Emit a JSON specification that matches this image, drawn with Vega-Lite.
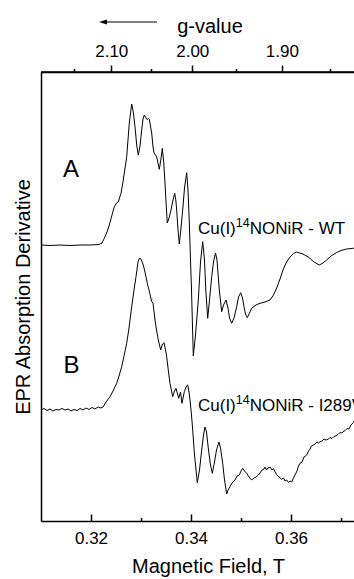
{
  "$schema": "https://vega.github.io/schema/vega-lite/v6.json",
  "width": 313,
  "height": 449,
  "autosize": {"type": "none"},
  "padding": {"left": 41, "top": 72, "right": 0, "bottom": 58},
  "config": {
    "font": "Liberation Sans",
    "view": {"stroke": null},
    "axis": {
      "domainColor": "black", "domainWidth": 1.5,
      "tickColor": "black", "tickWidth": 1.5,
      "labelColor": "black", "titleColor": "black",
      "labelFont": "Liberation Sans", "titleFont": "Liberation Sans",
      "titleFontWeight": "normal", "grid": false,
      "labelFontSize": 17, "titleFontSize": 20
    },
    "text": {"font": "Liberation Sans", "color": "black"}
  },
  "datasets": {
    "spectra": [
      {"sample": "A", "field_T": 0.3100, "signal": 276},
      {"sample": "A", "field_T": 0.3118, "signal": 275.5},
      {"sample": "A", "field_T": 0.3138, "signal": 276},
      {"sample": "A", "field_T": 0.3158, "signal": 275.5},
      {"sample": "A", "field_T": 0.3178, "signal": 276},
      {"sample": "A", "field_T": 0.3198, "signal": 276},
      {"sample": "A", "field_T": 0.3216, "signal": 276.5},
      {"sample": "A", "field_T": 0.3222, "signal": 278},
      {"sample": "A", "field_T": 0.32266, "signal": 282.7},
      {"sample": "A", "field_T": 0.3232, "signal": 289},
      {"sample": "A", "field_T": 0.32366, "signal": 296},
      {"sample": "A", "field_T": 0.3242, "signal": 306},
      {"sample": "A", "field_T": 0.32466, "signal": 314.3},
      {"sample": "A", "field_T": 0.3251, "signal": 318},
      {"sample": "A", "field_T": 0.32546, "signal": 319.3},
      {"sample": "A", "field_T": 0.3260, "signal": 327.7},
      {"sample": "A", "field_T": 0.32646, "signal": 341},
      {"sample": "A", "field_T": 0.32714, "signal": 364.3},
      {"sample": "A", "field_T": 0.32766, "signal": 398},
      {"sample": "A", "field_T": 0.32814, "signal": 417},
      {"sample": "A", "field_T": 0.32846, "signal": 409},
      {"sample": "A", "field_T": 0.3288, "signal": 394.3},
      {"sample": "A", "field_T": 0.32914, "signal": 376},
      {"sample": "A", "field_T": 0.32946, "signal": 366},
      {"sample": "A", "field_T": 0.3298, "signal": 375},
      {"sample": "A", "field_T": 0.33014, "signal": 391},
      {"sample": "A", "field_T": 0.3304, "signal": 402},
      {"sample": "A", "field_T": 0.33066, "signal": 406},
      {"sample": "A", "field_T": 0.3310, "signal": 403},
      {"sample": "A", "field_T": 0.3312, "signal": 401.5},
      {"sample": "A", "field_T": 0.3315, "signal": 402.5},
      {"sample": "A", "field_T": 0.33166, "signal": 401.7},
      {"sample": "A", "field_T": 0.33214, "signal": 388},
      {"sample": "A", "field_T": 0.3324, "signal": 374},
      {"sample": "A", "field_T": 0.3326, "signal": 368},
      {"sample": "A", "field_T": 0.3329, "signal": 366},
      {"sample": "A", "field_T": 0.33314, "signal": 364},
      {"sample": "A", "field_T": 0.3334, "signal": 358},
      {"sample": "A", "field_T": 0.33366, "signal": 351.7},
      {"sample": "A", "field_T": 0.33396, "signal": 361},
      {"sample": "A", "field_T": 0.33426, "signal": 372.7},
      {"sample": "A", "field_T": 0.33454, "signal": 359},
      {"sample": "A", "field_T": 0.3348, "signal": 338},
      {"sample": "A", "field_T": 0.33504, "signal": 316},
      {"sample": "A", "field_T": 0.33526, "signal": 298},
      {"sample": "A", "field_T": 0.3356, "signal": 303},
      {"sample": "A", "field_T": 0.3360, "signal": 311},
      {"sample": "A", "field_T": 0.3364, "signal": 321},
      {"sample": "A", "field_T": 0.33674, "signal": 327.7},
      {"sample": "A", "field_T": 0.33696, "signal": 321},
      {"sample": "A", "field_T": 0.33714, "signal": 311},
      {"sample": "A", "field_T": 0.3374, "signal": 291},
      {"sample": "A", "field_T": 0.33766, "signal": 277},
      {"sample": "A", "field_T": 0.3380, "signal": 293},
      {"sample": "A", "field_T": 0.33834, "signal": 311},
      {"sample": "A", "field_T": 0.3387, "signal": 333},
      {"sample": "A", "field_T": 0.33914, "signal": 348.3},
      {"sample": "A", "field_T": 0.3394, "signal": 331},
      {"sample": "A", "field_T": 0.33966, "signal": 298},
      {"sample": "A", "field_T": 0.3401, "signal": 231},
      {"sample": "A", "field_T": 0.34046, "signal": 165},
      {"sample": "A", "field_T": 0.3409, "signal": 186},
      {"sample": "A", "field_T": 0.34146, "signal": 221},
      {"sample": "A", "field_T": 0.3419, "signal": 259},
      {"sample": "A", "field_T": 0.34234, "signal": 279.3},
      {"sample": "A", "field_T": 0.3427, "signal": 261},
      {"sample": "A", "field_T": 0.34296, "signal": 231},
      {"sample": "A", "field_T": 0.34334, "signal": 202.7},
      {"sample": "A", "field_T": 0.3437, "signal": 221},
      {"sample": "A", "field_T": 0.34414, "signal": 244.3},
      {"sample": "A", "field_T": 0.3445, "signal": 259},
      {"sample": "A", "field_T": 0.3449, "signal": 268},
      {"sample": "A", "field_T": 0.3452, "signal": 261},
      {"sample": "A", "field_T": 0.34566, "signal": 231},
      {"sample": "A", "field_T": 0.34614, "signal": 209.3},
      {"sample": "A", "field_T": 0.3465, "signal": 216},
      {"sample": "A", "field_T": 0.3470, "signal": 221},
      {"sample": "A", "field_T": 0.3474, "signal": 213},
      {"sample": "A", "field_T": 0.3477, "signal": 203},
      {"sample": "A", "field_T": 0.34814, "signal": 197.7},
      {"sample": "A", "field_T": 0.3486, "signal": 203},
      {"sample": "A", "field_T": 0.34914, "signal": 214.3},
      {"sample": "A", "field_T": 0.3495, "signal": 224},
      {"sample": "A", "field_T": 0.34994, "signal": 228.3},
      {"sample": "A", "field_T": 0.3503, "signal": 223},
      {"sample": "A", "field_T": 0.3506, "signal": 214.3},
      {"sample": "A", "field_T": 0.3509, "signal": 207},
      {"sample": "A", "field_T": 0.35126, "signal": 203.3},
      {"sample": "A", "field_T": 0.3517, "signal": 208},
      {"sample": "A", "field_T": 0.35214, "signal": 212.7},
      {"sample": "A", "field_T": 0.3530, "signal": 216},
      {"sample": "A", "field_T": 0.3538, "signal": 217.7},
      {"sample": "A", "field_T": 0.3548, "signal": 219},
      {"sample": "A", "field_T": 0.3558, "signal": 221},
      {"sample": "A", "field_T": 0.3565, "signal": 226},
      {"sample": "A", "field_T": 0.35714, "signal": 233},
      {"sample": "A", "field_T": 0.3578, "signal": 242},
      {"sample": "A", "field_T": 0.3584, "signal": 251},
      {"sample": "A", "field_T": 0.3591, "signal": 259},
      {"sample": "A", "field_T": 0.3598, "signal": 264},
      {"sample": "A", "field_T": 0.3605, "signal": 267.5},
      {"sample": "A", "field_T": 0.36114, "signal": 269},
      {"sample": "A", "field_T": 0.36146, "signal": 268.5},
      {"sample": "A", "field_T": 0.3624, "signal": 267},
      {"sample": "A", "field_T": 0.36346, "signal": 264},
      {"sample": "A", "field_T": 0.3646, "signal": 259},
      {"sample": "A", "field_T": 0.36566, "signal": 256},
      {"sample": "A", "field_T": 0.3664, "signal": 258},
      {"sample": "A", "field_T": 0.36714, "signal": 261},
      {"sample": "A", "field_T": 0.3680, "signal": 265},
      {"sample": "A", "field_T": 0.36914, "signal": 268.5},
      {"sample": "A", "field_T": 0.3700, "signal": 270.5},
      {"sample": "A", "field_T": 0.37114, "signal": 272},
      {"sample": "A", "field_T": 0.37246, "signal": 272.7},
      {"sample": "A", "field_T": 0.3726, "signal": 273},
      {"sample": "B", "field_T": 0.3100, "signal": 111},
      {"sample": "B", "field_T": 0.3106, "signal": 112.5},
      {"sample": "B", "field_T": 0.3112, "signal": 110.5},
      {"sample": "B", "field_T": 0.3118, "signal": 112},
      {"sample": "B", "field_T": 0.3124, "signal": 110},
      {"sample": "B", "field_T": 0.3130, "signal": 111.5},
      {"sample": "B", "field_T": 0.3136, "signal": 111},
      {"sample": "B", "field_T": 0.3142, "signal": 112.5},
      {"sample": "B", "field_T": 0.3148, "signal": 111},
      {"sample": "B", "field_T": 0.3154, "signal": 112},
      {"sample": "B", "field_T": 0.3160, "signal": 110},
      {"sample": "B", "field_T": 0.3166, "signal": 111.5},
      {"sample": "B", "field_T": 0.3172, "signal": 110.5},
      {"sample": "B", "field_T": 0.3178, "signal": 112.5},
      {"sample": "B", "field_T": 0.3184, "signal": 111},
      {"sample": "B", "field_T": 0.3190, "signal": 113},
      {"sample": "B", "field_T": 0.3196, "signal": 111.5},
      {"sample": "B", "field_T": 0.3202, "signal": 113.5},
      {"sample": "B", "field_T": 0.3208, "signal": 112},
      {"sample": "B", "field_T": 0.3214, "signal": 114},
      {"sample": "B", "field_T": 0.3220, "signal": 113},
      {"sample": "B", "field_T": 0.32246, "signal": 114.3},
      {"sample": "B", "field_T": 0.3230, "signal": 119},
      {"sample": "B", "field_T": 0.3238, "signal": 124.3},
      {"sample": "B", "field_T": 0.3244, "signal": 130},
      {"sample": "B", "field_T": 0.32514, "signal": 137.7},
      {"sample": "B", "field_T": 0.3256, "signal": 145},
      {"sample": "B", "field_T": 0.32614, "signal": 154.3},
      {"sample": "B", "field_T": 0.3266, "signal": 165},
      {"sample": "B", "field_T": 0.32714, "signal": 177.7},
      {"sample": "B", "field_T": 0.3276, "signal": 193},
      {"sample": "B", "field_T": 0.32814, "signal": 214.3},
      {"sample": "B", "field_T": 0.3286, "signal": 231},
      {"sample": "B", "field_T": 0.3290, "signal": 244.3},
      {"sample": "B", "field_T": 0.3294, "signal": 259},
      {"sample": "B", "field_T": 0.32966, "signal": 262.7},
      {"sample": "B", "field_T": 0.3300, "signal": 262},
      {"sample": "B", "field_T": 0.33046, "signal": 256},
      {"sample": "B", "field_T": 0.3308, "signal": 249},
      {"sample": "B", "field_T": 0.33126, "signal": 237.7},
      {"sample": "B", "field_T": 0.3317, "signal": 229},
      {"sample": "B", "field_T": 0.33214, "signal": 219.3},
      {"sample": "B", "field_T": 0.3324, "signal": 218},
      {"sample": "B", "field_T": 0.3328, "signal": 201},
      {"sample": "B", "field_T": 0.3331, "signal": 191},
      {"sample": "B", "field_T": 0.33346, "signal": 181},
      {"sample": "B", "field_T": 0.33394, "signal": 171},
      {"sample": "B", "field_T": 0.3343, "signal": 177},
      {"sample": "B", "field_T": 0.3346, "signal": 178.3},
      {"sample": "B", "field_T": 0.3349, "signal": 171},
      {"sample": "B", "field_T": 0.33514, "signal": 164.3},
      {"sample": "B", "field_T": 0.3355, "signal": 149},
      {"sample": "B", "field_T": 0.3358, "signal": 137.7},
      {"sample": "B", "field_T": 0.33634, "signal": 124.3},
      {"sample": "B", "field_T": 0.3367, "signal": 130},
      {"sample": "B", "field_T": 0.3370, "signal": 132.7},
      {"sample": "B", "field_T": 0.33754, "signal": 122.7},
      {"sample": "B", "field_T": 0.3379, "signal": 129},
      {"sample": "B", "field_T": 0.3382, "signal": 117.7},
      {"sample": "B", "field_T": 0.33866, "signal": 129.3},
      {"sample": "B", "field_T": 0.3391, "signal": 135},
      {"sample": "B", "field_T": 0.33934, "signal": 136},
      {"sample": "B", "field_T": 0.3396, "signal": 129},
      {"sample": "B", "field_T": 0.3398, "signal": 121},
      {"sample": "B", "field_T": 0.3401, "signal": 106},
      {"sample": "B", "field_T": 0.34034, "signal": 91},
      {"sample": "B", "field_T": 0.3407, "signal": 66},
      {"sample": "B", "field_T": 0.34126, "signal": 38.3},
      {"sample": "B", "field_T": 0.3417, "signal": 51},
      {"sample": "B", "field_T": 0.34214, "signal": 71},
      {"sample": "B", "field_T": 0.3425, "signal": 86},
      {"sample": "B", "field_T": 0.3428, "signal": 94},
      {"sample": "B", "field_T": 0.3431, "signal": 89},
      {"sample": "B", "field_T": 0.3435, "signal": 71},
      {"sample": "B", "field_T": 0.3439, "signal": 56},
      {"sample": "B", "field_T": 0.34426, "signal": 47.7},
      {"sample": "B", "field_T": 0.3447, "signal": 59},
      {"sample": "B", "field_T": 0.3451, "signal": 71},
      {"sample": "B", "field_T": 0.3456, "signal": 79},
      {"sample": "B", "field_T": 0.3459, "signal": 73},
      {"sample": "B", "field_T": 0.34634, "signal": 57.7},
      {"sample": "B", "field_T": 0.3467, "signal": 41},
      {"sample": "B", "field_T": 0.34714, "signal": 27},
      {"sample": "B", "field_T": 0.3474, "signal": 31},
      {"sample": "B", "field_T": 0.3478, "signal": 34.3},
      {"sample": "B", "field_T": 0.3482, "signal": 38},
      {"sample": "B", "field_T": 0.3488, "signal": 41},
      {"sample": "B", "field_T": 0.3492, "signal": 45},
      {"sample": "B", "field_T": 0.34966, "signal": 46},
      {"sample": "B", "field_T": 0.3500, "signal": 50},
      {"sample": "B", "field_T": 0.35034, "signal": 52.7},
      {"sample": "B", "field_T": 0.3507, "signal": 50},
      {"sample": "B", "field_T": 0.35114, "signal": 47.7},
      {"sample": "B", "field_T": 0.3516, "signal": 44},
      {"sample": "B", "field_T": 0.35214, "signal": 41},
      {"sample": "B", "field_T": 0.3526, "signal": 43},
      {"sample": "B", "field_T": 0.3530, "signal": 44},
      {"sample": "B", "field_T": 0.35346, "signal": 46},
      {"sample": "B", "field_T": 0.3538, "signal": 48},
      {"sample": "B", "field_T": 0.3542, "signal": 51},
      {"sample": "B", "field_T": 0.3546, "signal": 52},
      {"sample": "B", "field_T": 0.3548, "signal": 54},
      {"sample": "B", "field_T": 0.3551, "signal": 51},
      {"sample": "B", "field_T": 0.3554, "signal": 53},
      {"sample": "B", "field_T": 0.3558, "signal": 54},
      {"sample": "B", "field_T": 0.3562, "signal": 51},
      {"sample": "B", "field_T": 0.3565, "signal": 52.5},
      {"sample": "B", "field_T": 0.3568, "signal": 49},
      {"sample": "B", "field_T": 0.3572, "signal": 46},
      {"sample": "B", "field_T": 0.3576, "signal": 44},
      {"sample": "B", "field_T": 0.35814, "signal": 41.7},
      {"sample": "B", "field_T": 0.3585, "signal": 43},
      {"sample": "B", "field_T": 0.3588, "signal": 40},
      {"sample": "B", "field_T": 0.35914, "signal": 41},
      {"sample": "B", "field_T": 0.3595, "signal": 38.5},
      {"sample": "B", "field_T": 0.3598, "signal": 40},
      {"sample": "B", "field_T": 0.36014, "signal": 39},
      {"sample": "B", "field_T": 0.3604, "signal": 42},
      {"sample": "B", "field_T": 0.3608, "signal": 46},
      {"sample": "B", "field_T": 0.3612, "signal": 50},
      {"sample": "B", "field_T": 0.3615, "signal": 55},
      {"sample": "B", "field_T": 0.3618, "signal": 57.7},
      {"sample": "B", "field_T": 0.3622, "signal": 59},
      {"sample": "B", "field_T": 0.3626, "signal": 64},
      {"sample": "B", "field_T": 0.36314, "signal": 66},
      {"sample": "B", "field_T": 0.3635, "signal": 70},
      {"sample": "B", "field_T": 0.3638, "signal": 72},
      {"sample": "B", "field_T": 0.3641, "signal": 75},
      {"sample": "B", "field_T": 0.36446, "signal": 76},
      {"sample": "B", "field_T": 0.3648, "signal": 77},
      {"sample": "B", "field_T": 0.3652, "signal": 79},
      {"sample": "B", "field_T": 0.3655, "signal": 78},
      {"sample": "B", "field_T": 0.3658, "signal": 79.3},
      {"sample": "B", "field_T": 0.3662, "signal": 80},
      {"sample": "B", "field_T": 0.3666, "signal": 82},
      {"sample": "B", "field_T": 0.3670, "signal": 81},
      {"sample": "B", "field_T": 0.36746, "signal": 81.7},
      {"sample": "B", "field_T": 0.3678, "signal": 83.5},
      {"sample": "B", "field_T": 0.3682, "signal": 82.5},
      {"sample": "B", "field_T": 0.3686, "signal": 84.5},
      {"sample": "B", "field_T": 0.36914, "signal": 85.5},
      {"sample": "B", "field_T": 0.3695, "signal": 87},
      {"sample": "B", "field_T": 0.3698, "signal": 88.5},
      {"sample": "B", "field_T": 0.3702, "signal": 88},
      {"sample": "B", "field_T": 0.3706, "signal": 90},
      {"sample": "B", "field_T": 0.3708, "signal": 90.3},
      {"sample": "B", "field_T": 0.3712, "signal": 92.5},
      {"sample": "B", "field_T": 0.3716, "signal": 92},
      {"sample": "B", "field_T": 0.3720, "signal": 96},
      {"sample": "B", "field_T": 0.37246, "signal": 98.5},
      {"sample": "B", "field_T": 0.3726, "signal": 100}
    ],
    "letters": [
      {"text": "A", "field_T": 0.3144, "signal": 344},
      {"text": "B", "field_T": 0.3145, "signal": 148}
    ],
    "mainText": [
      {"text": "Cu(I)", "field_T": 0.3414, "signal": 287},
      {"text": "NONiR -  WT", "field_T": 0.35174, "signal": 287},
      {"text": "Cu(I)", "field_T": 0.3414, "signal": 110},
      {"text": "NONiR - I289V", "field_T": 0.35174, "signal": 110}
    ],
    "supText": [
      {"text": "14", "field_T": 0.34896, "signal": 294},
      {"text": "14", "field_T": 0.34896, "signal": 117}
    ],
    "arrow": [
      {"annotation": "g-value direction"}
    ]
  },
  "resolve": {"axis": {"x": "independent", "y": "independent"}},
  "layer": [
    {
      "data": {"name": "spectra"},
      "mark": {"type": "line", "color": "black", "strokeWidth": 1, "clip": true},
      "encoding": {
        "x": {
          "field": "field_T", "type": "quantitative",
          "scale": {"domain": [0.31, 0.3726], "nice": false, "zero": false},
          "axis": {
            "orient": "bottom",
            "values": [0.32, 0.33, 0.34, 0.35, 0.36, 0.37],
            "labelExpr": "round(datum.value*100) % 2 == 0 ? format(datum.value, '.2f') : ''",
            "tickSize": {"condition": {"test": "round(datum.value*100) % 2 == 0", "value": -7}, "value": -3.5},
            "labelPadding": 16,
            "title": "Magnetic Field, T",
            "titlePadding": 10,
            "titleX": 167
          }
        },
        "y": {
          "field": "signal", "type": "quantitative",
          "scale": {"domain": [0, 449], "nice": false, "zero": false},
          "axis": {
            "orient": "left", "ticks": false, "labels": false,
            "title": "EPR Absorption Derivative",
            "titlePadding": 8
          }
        },
        "detail": {"field": "sample"}
      }
    },
    {
      "data": {"name": "letters"},
      "mark": {"type": "text", "fontSize": 24, "align": "left", "baseline": "alphabetic"},
      "encoding": {
        "x": {
          "field": "field_T", "type": "quantitative",
          "scale": {"domain": [0.31, 0.3726], "nice": false, "zero": false},
          "axis": {
            "orient": "top",
            "domain": true,
            "domainColor": "black",
            "domainWidth": 1.5,
            "values": [0.31651, 0.32405, 0.33195, 0.34025, 0.34897, 0.35816, 0.36784],
            "labelExpr": "round(68.05/datum.value) % 10 == 0 ? format(0.6805/datum.value, '.2f') : ''",
            "tickSize": {"condition": {"test": "round(68.05/datum.value) % 10 == 0", "value": 7}, "value": 3.5},
            "labelPadding": 5,
            "title": "g-value",
            "titlePadding": 6,
            "titleX": 168.5
          }
        },
        "y": {"field": "signal", "type": "quantitative", "scale": {"domain": [0, 449], "nice": false, "zero": false}, "axis": null},
        "text": {"field": "text"}
      }
    },
    {
      "data": {"name": "mainText"},
      "mark": {"type": "text", "fontSize": 17, "align": "left", "baseline": "alphabetic", "clip": true},
      "encoding": {
        "x": {"field": "field_T", "type": "quantitative", "scale": {"domain": [0.31, 0.3726], "nice": false, "zero": false}, "axis": null},
        "y": {"field": "signal", "type": "quantitative", "scale": {"domain": [0, 449], "nice": false, "zero": false}, "axis": null},
        "text": {"field": "text"}
      }
    },
    {
      "data": {"name": "supText"},
      "mark": {"type": "text", "fontSize": 12.5, "align": "left", "baseline": "alphabetic"},
      "encoding": {
        "x": {"field": "field_T", "type": "quantitative", "scale": {"domain": [0.31, 0.3726], "nice": false, "zero": false}, "axis": null},
        "y": {"field": "signal", "type": "quantitative", "scale": {"domain": [0, 449], "nice": false, "zero": false}, "axis": null},
        "text": {"field": "text"}
      }
    },
    {
      "data": {"name": "arrow"},
      "mark": {"type": "rule", "color": "black", "strokeWidth": 1.5},
      "encoding": {
        "x": {"datum": 0.31, "type": "quantitative", "scale": {"domain": [0.31, 0.3726], "nice": false, "zero": false}, "axis": null},
        "x2": {"datum": 0.3726},
        "y": {"datum": 449, "type": "quantitative", "scale": {"domain": [0, 449], "nice": false, "zero": false}, "axis": null}
      }
    },
    {
      "data": {"name": "arrow"},
      "mark": {"type": "rule", "color": "black", "strokeWidth": 1},
      "encoding": {
        "x": {"datum": 0.3222, "type": "quantitative", "scale": {"domain": [0.31, 0.3726], "nice": false, "zero": false}, "axis": null},
        "x2": {"datum": 0.3332},
        "y": {"datum": 499, "type": "quantitative", "scale": {"domain": [0, 449], "nice": false, "zero": false}, "axis": null}
      }
    },
    {
      "data": {"name": "arrow"},
      "mark": {"type": "point", "shape": "M -1 0 L 1 -0.6 L 1 0.6 Z", "filled": true, "color": "black", "opacity": 1, "size": 64},
      "encoding": {
        "x": {"datum": 0.3224, "type": "quantitative", "scale": {"domain": [0.31, 0.3726], "nice": false, "zero": false}, "axis": null},
        "y": {"datum": 499, "type": "quantitative", "scale": {"domain": [0, 449], "nice": false, "zero": false}, "axis": null}
      }
    }
  ]
}
